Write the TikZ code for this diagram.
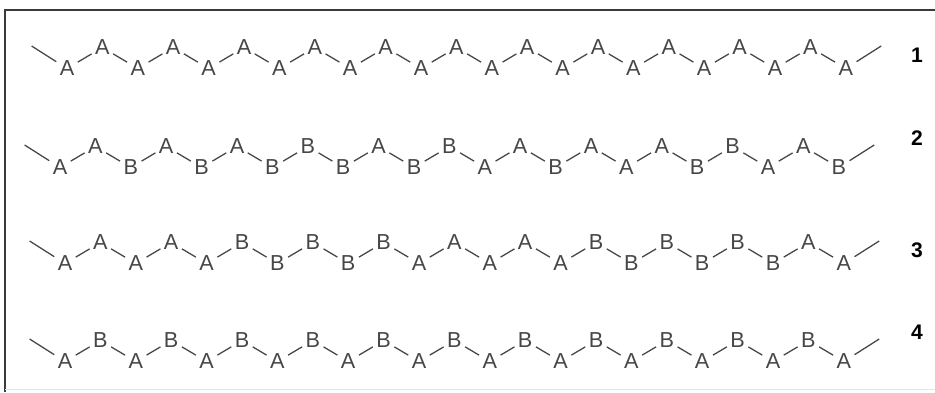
\documentclass[tikz,border=0pt]{standalone}
\usepackage{fontspec}
\setmainfont{Liberation Sans}
\usepackage{xcolor}
\usepackage{tikz}
\definecolor{unitgray}{HTML}{474747}
\definecolor{framegray}{HTML}{3A3A3A}
\tikzstyle{unit}  = [text=unitgray, inner sep=2.8pt, font=\fontsize{18.5}{18.5}\selectfont]
\tikzstyle{bond}  = [unitgray, line width=1.1pt]
\tikzstyle{rowno} = [inner sep=0pt, font=\fontsize{18}{18}\selectfont\bfseries]

\newcommand{\chainrow}[4]{%
  \foreach \u [count=\i] in {#4} {
    \ifodd\i \def\yy{#3+10.5}\else \def\yy{#3-10.5}\fi
    \node[unit] (#1\i) at ({#2+(\i-1)*35.4}, {\yy}) {\u};
  }
  \coordinate (#1s) at ({#2-35.4}, {#3-12});
  \coordinate (#1e) at ({#2+23*35.4}, {#3-12});
  \draw[bond] (#1s) -- (#11);
  \foreach \i [evaluate=\i as \j using int(\i+1)] in {1,...,22}
    \draw[bond] (#1\i) -- (#1\j);
  \draw[bond] (#123) -- (#1e);
}

\begin{document}
\begin{tikzpicture}[x=0.03cm, y=-0.03cm]
    \useasboundingbox (0,0) rectangle (935,392);
    \draw[framegray, line width=1.6pt] (935,10) -- (5,10) -- (5,392);
    \draw[black!10, line width=1pt] (5,389.5) -- (935,389.5);

    \chainrow{ra}{67}{58}{A,A,A,A,A,A,A,A,A,A,A,A,A,A,A,A,A,A,A,A,A,A,A}
    \chainrow{rb}{60}{157}{A,A,B,A,B,A,B,B,B,A,B,B,A,A,B,A,A,A,B,B,A,A,B}
    \chainrow{rc}{65}{253}{A,A,A,A,A,B,B,B,B,B,A,A,A,A,A,B,B,B,B,B,B,A,A}
    \chainrow{rd}{65}{351}{A,B,A,B,A,B,A,B,A,B,A,B,A,B,A,B,A,B,A,B,A,B,A}

    \node[rowno] (no1) at (917,55)  {1};
    \node[rowno] (no2) at (917,138) {2};
    \node[rowno] (no3) at (917,250) {3};
    \node[rowno] (no4) at (917,332) {4};
\end{tikzpicture}
\end{document}
